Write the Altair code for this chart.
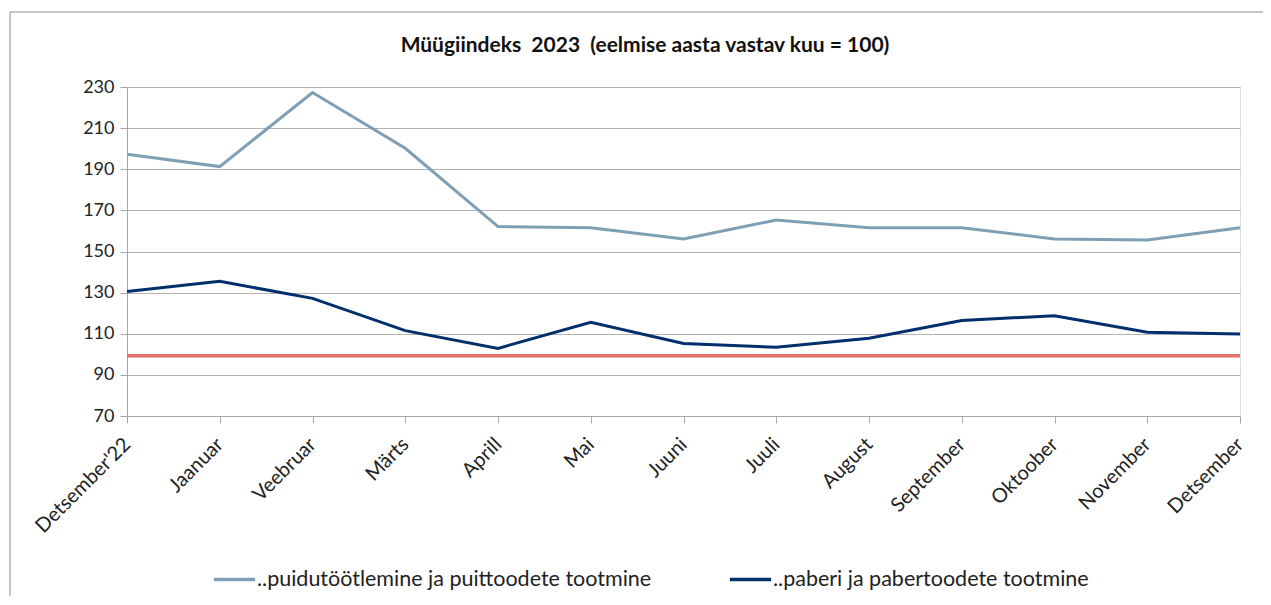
import altair as alt
import pandas as pd

months = ["Detsember'22", "Jaanuar", "Veebruar", "Märts", "Aprill", "Mai", "Juuni",
          "Juuli", "August", "September", "Oktoober", "November", "Detsember"]
puidu = [197.3, 191.3, 227.3, 200.2, 162.1, 161.6, 156.1, 165.3, 161.6, 161.6, 156.1, 155.6, 161.6]
paberi = [130.6, 135.5, 127.2, 111.5, 102.9, 115.6, 105.3, 103.4, 107.8, 116.4, 118.8, 110.7, 109.9]
reference = [99.3] * len(months)

series_names = ["..puidutöötlemine ja puittoodete tootmine", "..paberi ja pabertoodete tootmine"]
series_colors = ["#7F9FB4", "#002F6C"]
y_ticks = [70, 90, 110, 130, 150, 170, 190, 210, 230]
title_text = "Müügiindeks\u00a0\u00a02023\u00a0\u00a0(eelmise aasta vastav kuu = 100)"

rows = []
for m, a, b in zip(months, puidu, paberi):
    rows.append({"kuu": m, "seeria": series_names[0], "vaartus": a})
    rows.append({"kuu": m, "seeria": series_names[1], "vaartus": b})
df = pd.DataFrame(rows)
ref_df = pd.DataFrame({"kuu": months, "vaartus": reference})

FONT = "Lato"
W, H = 1113, 329

x_enc = alt.X("kuu:N", sort=months, scale=alt.Scale(padding=0),
              axis=alt.Axis(title=None, labelAngle=-45, labelAlign="right", labelBaseline="middle",
                            labelFont=FONT, labelFontSize=20, labelColor="#222222", labelPadding=18,
                            tickColor="#A6A6A6", tickSize=7, domainColor="#A6A6A6", grid=False))
y_enc = alt.Y("vaartus:Q", scale=alt.Scale(domain=[70, 230], nice=False, zero=False),
              axis=alt.Axis(title=None, values=y_ticks, labelFont=FONT, labelFontSize=18,
                            labelColor="#222222", labelPadding=6, tickColor="#A6A6A6", tickSize=7,
                            domainColor="#A6A6A6", gridColor="#B3B3B3", gridWidth=1))

frame = alt.Chart(pd.DataFrame({"k": [0]})).mark_rect(
    fill="transparent", stroke="#8C8C8C", strokeWidth=1, clip=False
).encode(x=alt.value(-117), x2=alt.value(1160), y=alt.value(-75), y2=alt.value(530))

title = alt.Chart(pd.DataFrame({"t": [title_text]})).mark_text(
    font=FONT, fontSize=21, fontWeight="bold", color="#111111", align="center", baseline="middle",
    clip=False
).encode(text="t:N", x=alt.value(518), y=alt.value(-41))

ref_line = alt.Chart(ref_df).mark_line(color="#E2716A", strokeWidth=3.5).encode(
    x=x_enc, y=y_enc)

lines = alt.Chart(df).mark_line(strokeWidth=3).encode(
    x=x_enc, y=y_enc,
    color=alt.Color("seeria:N", sort=series_names,
                    scale=alt.Scale(domain=series_names, range=series_colors),
                    legend=alt.Legend(title=None, orient="none", legendX=85, legendY=470,
                                      direction="horizontal", symbolType="stroke",
                                      symbolSize=1700, symbolStrokeWidth=3.5, labelOffset=0,
                                      labelFont=FONT, labelFontSize=21.5, labelColor="#222222",
                                      columnPadding=70, padding=0, labelLimit=600)),
)

chart = alt.layer(frame, title, ref_line, lines).properties(
    width=W, height=H,
    autosize=alt.AutoSizeParams(type="none"),
    padding={"left": 119, "top": 79, "right": 23, "bottom": 180},
).configure_view(stroke=None).configure(background="white")

chart.save("out.html", embed_options={"renderer": "svg", "actions": False})
